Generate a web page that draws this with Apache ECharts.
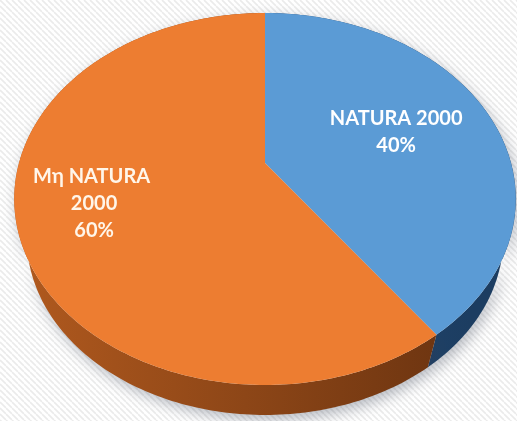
<!DOCTYPE html>
<html>
<head>
<meta charset="utf-8">
<script src="https://cdn.jsdelivr.net/npm/echarts@6/dist/echarts.min.js"></script>
<style>
  html, body { margin: 0; padding: 0; background: #fff; }
  #main { width: 517px; height: 421px; }
</style>
</head>
<body>
<div id="main"></div>
<script>
// data
const categories = ['NATURA 2000', 'Mη NATURA 2000'];
const values = [40, 60];

const topColors = ['#5b9bd5', '#ed7d31'];
const sideColors = [['#2e5d94', '#1c3d61'], ['#b0591e', '#6a3310']];
const labelColors = ['#ffffff', '#fff6ea'];
const labelRadius = [0.58, 0.7];

// perspective of the tilted disc
const cx = 265, cy = 163, A = 246, B = 179, k = 0.1935;
// bottom face = top face shrunk toward a low vanishing point
const vanishY = 985, shrink = 0.95;
const proj = (theta, r, bottom) => {
	const u = r * Math.sin(theta);
	const v = -r * Math.cos(theta);
	const s = 1 / (1 - k * v);
	const x = cx + A * u * s;
	const y = cy + B * v * s;
	if (!bottom) return [x, y];
	return [cx + (x - cx) * shrink, vanishY + (y - vanishY) * shrink];
};
const arc = (a0, a1, bottom) => {
	const pts = [];
	const n = Math.max(2, Math.ceil((a1 - a0) / (Math.PI / 180)));
	for (let i = 0; i <= n; i++) pts.push(proj(a0 + (a1 - a0) * i / n, 1, bottom));
	return pts;
};

// striped background tile
const tile = document.createElement('canvas');
tile.width = 6; tile.height = 6;
const tctx = tile.getContext('2d');
tctx.fillStyle = '#ffffff';
tctx.fillRect(0, 0, 6, 6);
tctx.strokeStyle = '#ebebeb';
tctx.lineWidth = 1.6;
[-6, 0, 6].forEach((o) => {
	tctx.beginPath();
	tctx.moveTo(o, 0);
	tctx.lineTo(o + 6, 6);
	tctx.stroke();
});

const total = values.reduce((a, b) => a + b, 0);

const renderItem = (params, api) => {
	const i = params.dataIndex;
	let before = 0;
	for (let j = 0; j < i; j++) before += values[j];
	const a0 = before / total * Math.PI * 2;
	const a1 = (before + api.value(0)) / total * Math.PI * 2;
	const topArc = arc(a0, a1, false);
	const sidePts = topArc.concat(arc(a0, a1, true).reverse());
	const mid = (a0 + a1) / 2;
	const lp = proj(mid, labelRadius[i], false);
	const pct = Math.round(api.value(0) / total * 100) + '%';
	return {
		type: 'group',
		children: [
			{
				type: 'polygon',
				z2: 1,
				shape: { points: sidePts },
				style: {
					fill: {
						type: 'linear', global: true, x: 20, y: 0, x2: 470, y2: 0,
						colorStops: [
							{ offset: 0, color: sideColors[i][0] },
							{ offset: 1, color: sideColors[i][1] },
						],
					},
					shadowColor: 'rgba(50,60,80,0.35)',
					shadowBlur: 14,
					shadowOffsetX: 3,
					shadowOffsetY: 5,
				},
			},
			{
				type: 'polygon',
				z2: 10,
				shape: { points: [[cx, cy]].concat(topArc) },
				style: { fill: topColors[i] },
			},
			{
				type: 'text',
				z2: 20,
				style: {
					text: categories[i] + '\n' + pct,
					x: lp[0],
					y: lp[1],
					width: 140,
					overflow: 'break',
					align: 'center',
					verticalAlign: 'middle',
					fill: labelColors[i],
					fontFamily: 'Lato',
					fontWeight: 'bold',
					fontSize: 20,
					lineHeight: 27,
				},
			},
		],
	};
};

const myChart = echarts.init(document.getElementById('main'));
const option = {
	backgroundColor: { image: tile, repeat: 'repeat' },
	animation: false,
	series: [
		{
			type: 'custom',
			coordinateSystem: 'none',
			renderItem: renderItem,
			data: values.map((v, i) => ({ name: categories[i], value: [v] })),
		},
	],
};
myChart.setOption(option);
</script>
</body>
</html>
